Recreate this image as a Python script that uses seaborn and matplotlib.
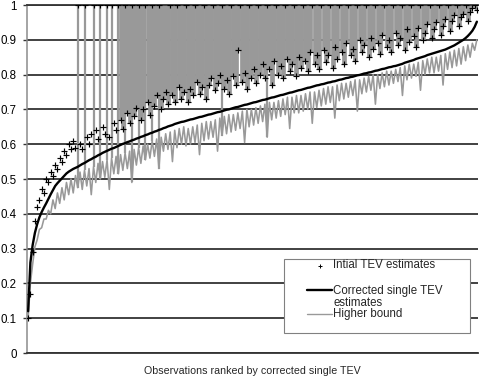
#!/usr/bin/env python3
"""Initial vs corrected single TEV estimates, observations ranked by corrected TEV
"""

import matplotlib
matplotlib.use("Agg")
import matplotlib.pyplot as plt
from matplotlib.patches import Rectangle
from matplotlib.lines import Line2D
import pandas as pd
import seaborn as sns


# corrected single TEV, one value per observation (already ranked)
corrected = [
    0.12, 0.26, 0.31, 0.345, 0.37, 0.39, 0.405, 0.418, 0.43, 0.443,
    0.456, 0.468, 0.48, 0.488, 0.495, 0.502, 0.509, 0.516, 0.521, 0.525,
    0.529, 0.532, 0.535, 0.539, 0.543, 0.546, 0.55, 0.554, 0.557, 0.561,
    0.564, 0.568, 0.571, 0.575, 0.578, 0.581, 0.584, 0.587, 0.589, 0.592,
    0.595, 0.598, 0.601, 0.603, 0.606, 0.608, 0.611, 0.613, 0.616, 0.618,
    0.621, 0.623, 0.626, 0.628, 0.631, 0.633, 0.636, 0.638, 0.641, 0.643,
    0.646, 0.648, 0.651, 0.653, 0.655, 0.658, 0.66, 0.662, 0.664, 0.665,
    0.667, 0.669, 0.671, 0.672, 0.674, 0.676, 0.678, 0.679, 0.681, 0.683,
    0.685, 0.686, 0.688, 0.69, 0.692, 0.693, 0.695, 0.697, 0.699, 0.7,
    0.702, 0.704, 0.706, 0.707, 0.709, 0.711, 0.713, 0.714, 0.716, 0.718,
    0.72, 0.721, 0.723, 0.725, 0.727, 0.728, 0.73, 0.732, 0.734, 0.735,
    0.737, 0.739, 0.741, 0.742, 0.744, 0.746, 0.748, 0.749, 0.751, 0.753,
    0.755, 0.756, 0.758, 0.76, 0.762, 0.763, 0.765, 0.767, 0.769, 0.77,
    0.772, 0.773, 0.775, 0.777, 0.778, 0.78, 0.781, 0.783, 0.785, 0.786,
    0.788, 0.79, 0.791, 0.793, 0.794, 0.796, 0.798, 0.799, 0.801, 0.803,
    0.804, 0.806, 0.807, 0.809, 0.811, 0.812, 0.814, 0.816, 0.817, 0.819,
    0.821, 0.822, 0.824, 0.825, 0.827, 0.829, 0.831, 0.834, 0.836, 0.838,
    0.84, 0.842, 0.845, 0.847, 0.849, 0.851, 0.853, 0.856, 0.858, 0.86,
    0.862, 0.864, 0.866, 0.868, 0.87, 0.872, 0.875, 0.878, 0.881, 0.884,
    0.888, 0.892, 0.896, 0.9, 0.905, 0.911, 0.918, 0.926, 0.937, 0.952,
]

# initial TEV estimates
initial = [
    0.1, 0.17, 0.29, 0.38, 0.42, 0.44, 0.47, 0.46, 0.5, 0.49,
    0.52, 0.51, 0.54, 0.53, 0.56, 0.55, 0.58, 0.57, 0.6, 0.585,
    0.61, 0.59, 1, 0.6, 0.585, 1, 0.62, 0.6, 0.63, 1,
    0.64, 0.615, 1, 0.65, 0.63, 1, 0.62, 1, 0.66, 0.64,
    1, 0.67, 0.645, 1, 0.69, 0.66, 1, 0.68, 0.705, 1,
    0.67, 0.7, 1, 0.72, 0.685, 1, 0.71, 0.74, 1, 0.7,
    0.73, 0.75, 0.715, 1, 0.74, 0.72, 1, 0.765, 0.73, 0.75,
    1, 0.72, 0.76, 0.74, 1, 0.78, 0.745, 0.765, 1, 0.73,
    0.77, 0.79, 1, 0.755, 0.775, 0.8, 1, 0.76, 0.785, 0.745,
    1, 0.795, 0.77, 0.87, 1, 0.78, 0.805, 0.76, 1, 0.79,
    0.815, 0.775, 1, 0.8, 0.83, 0.79, 1, 0.815, 0.77, 0.84,
    1, 0.8, 0.825, 0.79, 1, 0.845, 0.81, 0.83, 1, 0.795,
    0.85, 0.82, 1, 0.84, 0.81, 0.865, 1, 0.83, 0.855, 0.815,
    1, 0.87, 0.835, 0.855, 1, 0.82, 0.88, 0.845, 1, 0.865,
    0.83, 0.89, 1, 0.855, 0.875, 0.84, 1, 0.9, 0.865, 0.885,
    1, 0.85, 0.905, 0.875, 1, 0.89, 0.86, 0.915, 1, 0.88,
    0.9, 0.865, 1, 0.92, 0.885, 0.905, 1, 0.87, 0.93, 0.895,
    1, 0.91, 0.88, 0.935, 1, 0.9, 0.92, 0.945, 1, 0.905,
    0.93, 0.95, 1, 0.915, 0.94, 0.96, 1, 0.925, 0.955, 0.97,
    1, 0.94, 0.965, 0.975, 1, 0.955, 0.98, 0.99, 1, 0.985,
]

# higher bound
higher = [
    0.1, 0.2, 0.255, 0.305, 0.325, 0.355, 0.36, 0.385, 0.385, 0.41,
    0.4, 0.44, 0.415, 0.46, 0.43, 0.475, 0.44, 0.49, 0.455, 0.5,
    0.46, 0.51, 0.475, 0.52, 0.47, 0.525, 0.48, 0.53, 0.455, 0.535,
    0.49, 0.545, 0.5, 0.55, 0.505, 0.555, 0.47, 0.56, 0.515, 0.565,
    0.515, 0.57, 0.525, 0.575, 0.53, 0.58, 0.49, 0.585, 0.54, 0.59,
    0.545, 0.595, 0.555, 0.6, 0.56, 0.61, 0.565, 0.615, 0.53, 0.62,
    0.58, 0.63, 0.585, 0.635, 0.55, 0.64, 0.59, 0.645, 0.6, 0.65,
    0.595, 0.645, 0.6, 0.65, 0.605, 0.655, 0.57, 0.66, 0.61, 0.665,
    0.615, 0.665, 0.62, 0.67, 0.58, 0.675, 0.625, 0.68, 0.63, 0.685,
    0.635, 0.685, 0.64, 0.69, 0.645, 0.695, 0.605, 0.7, 0.65, 0.7,
    0.655, 0.705, 0.66, 0.71, 0.665, 0.715, 0.62, 0.72, 0.67, 0.72,
    0.675, 0.725, 0.68, 0.73, 0.685, 0.735, 0.645, 0.735, 0.69, 0.74,
    0.69, 0.74, 0.695, 0.745, 0.7, 0.75, 0.66, 0.75, 0.705, 0.755,
    0.71, 0.76, 0.715, 0.765, 0.72, 0.765, 0.675, 0.77, 0.725, 0.775,
    0.73, 0.775, 0.735, 0.78, 0.74, 0.785, 0.695, 0.785, 0.745, 0.79,
    0.75, 0.795, 0.755, 0.8, 0.715, 0.8, 0.76, 0.805, 0.765, 0.81,
    0.77, 0.81, 0.775, 0.815, 0.78, 0.82, 0.74, 0.825, 0.785, 0.83,
    0.79, 0.83, 0.795, 0.835, 0.755, 0.84, 0.8, 0.845, 0.805, 0.85,
    0.805, 0.85, 0.81, 0.855, 0.77, 0.86, 0.815, 0.865, 0.82, 0.87,
    0.825, 0.875, 0.83, 0.88, 0.84, 0.885, 0.85, 0.89, 0.87, 0.9,
]

# observations whose interval runs from the higher bound up to 1
spike_rank = [23, 26, 30, 33, 36, 38, 41, 44, 47, 50, 53, 56, 59, 87, 107]
# from this rank on the interval above the initial estimate reaches 1
shade_from_rank = 42

rank = list(range(1, len(corrected) + 1))

y_ticks = [0, 0.1, 0.2, 0.3, 0.4, 0.5, 0.6, 0.7, 0.8, 0.9, 1]
y_tick_labels = ["0", "0.1", "0.2", "0.3", "0.4", "0.5", "0.6", "0.7", "0.8", "0.9", "1"]

GREY = "#999999"
DARK = "#333333"
W, H = 480, 380


def fx(x):
    return x / W


def fy(y):
    return 1 - y / H


def main():
    sns.set_style("white")
    plt.rcParams["font.family"] = ["Liberation Sans", "DejaVu Sans"]

    df = pd.DataFrame({"rank": rank, "corrected": corrected,
                       "initial": initial, "higher": higher})

    fig = plt.figure(figsize=(4.8, 3.8), dpi=100)
    ax = fig.add_axes([fx(27), fy(353), 451 / W, 348 / H])

    # grey intervals reaching 1
    shaded = df[df["rank"] >= shade_from_rank]
    ax.vlines(shaded["rank"], shaded["initial"], 1, colors=GREY, linewidths=3.4, zorder=1)
    spikes = df[df["rank"].isin(spike_rank)]
    ax.vlines(spikes["rank"], spikes["higher"], 1, colors=GREY, linewidths=1.6, zorder=1)

    sns.lineplot(data=df, x="rank", y="higher", color=GREY, lw=1.15, ax=ax, zorder=2)
    sns.lineplot(data=df, x="rank", y="corrected", color="black", lw=1.7, ax=ax, zorder=3)
    sns.scatterplot(data=df, x="rank", y="initial", marker="+", color="black",
                    s=13, linewidth=0.85, ax=ax, zorder=4)

    ax.set_xlim(0.5, len(rank) + 0.5)
    ax.set_ylim(0, 1)
    ax.set_xticks([])
    ax.set_yticks(y_ticks)
    ax.set_yticklabels(y_tick_labels)
    ax.set_ylabel("")
    ax.set_xlabel("Observations ranked by corrected single TEV", fontsize=7.7, labelpad=9)

    ax.set_axisbelow(True)
    ax.yaxis.grid(True, color=DARK, lw=1.3)
    ax.xaxis.grid(False)
    ax.tick_params(axis="y", left=True, length=3, width=1, color=DARK,
                   pad=4.5, labelsize=8.3, labelcolor="black")
    ax.spines["right"].set_visible(False)
    for side in ("top", "bottom"):
        ax.spines[side].set_color(DARK)
        ax.spines[side].set_linewidth(1.3)
    ax.spines["left"].set_color("#8c8c8c")
    ax.spines["left"].set_linewidth(1.1)

    # legend
    ax.add_patch(Rectangle((fx(284), fy(333)), 186 / W, 74 / H,
                           transform=fig.transFigure, facecolor="white",
                           edgecolor="#808080", lw=0.8, zorder=4.5))
    fig.add_artist(Line2D([fx(320)], [fy(266)], marker="+", ms=3.5, mew=0.7,
                          color="black", ls="none"))
    fig.add_artist(Line2D([fx(307), fx(332)], [fy(290), fy(290)], color="black", lw=1.7))
    fig.add_artist(Line2D([fx(307), fx(332)], [fy(314), fy(314)], color=GREY, lw=1.0))
    legend_text = [(265, "Intial TEV estimates"), (291, "Corrected single TEV"),
                   (303, "estimates"), (314, "Higher bound")]
    for y, txt in legend_text:
        fig.text(fx(333), fy(y), txt, va="center", ha="left", fontsize=8.3)

    fig.savefig("out.png", dpi=100)


if __name__ == '__main__':
    main()
